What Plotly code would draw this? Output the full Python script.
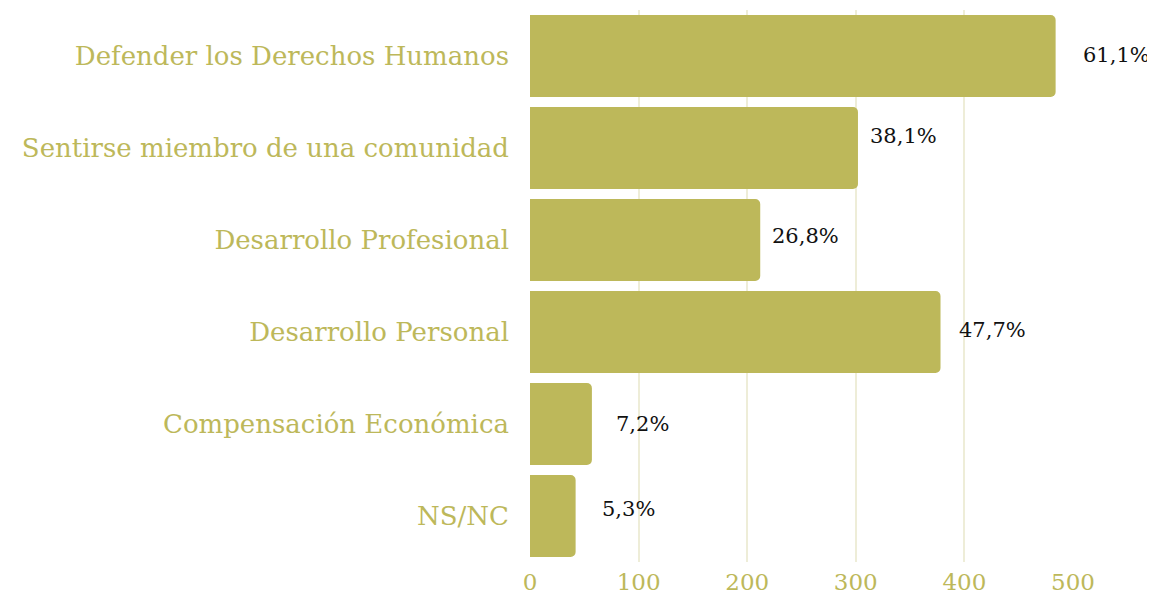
import plotly.graph_objects as go

categories = ["Defender los Derechos Humanos", "Sentirse miembro de una comunidad",
              "Desarrollo Profesional", "Desarrollo Personal",
              "Compensación Económica", "NS/NC"]
counts = [484, 302, 212, 378, 57, 42]
pct_labels = ["61,1%", "38,1%", "26,8%", "47,7%", "7,2%", "5,3%"]
x_ticks = [0, 100, 200, 300, 400, 500]

# label offsets (style only)
label_xshift = [25, 10, 10, 16, 22, 24]
label_yshift = [1, 12, 4, 2, 0, 7]

BAR = "#BDB85A"
GRID = "#EEEDD8"
FONT = "DejaVu Serif"

fig = go.Figure(go.Bar(
    x=counts, y=categories, orientation="h",
    marker=dict(color=BAR, cornerradius=5, line=dict(width=0)),
    hoverinfo="skip",
))

for c, v, t, dx, dy in zip(categories, counts, pct_labels, label_xshift, label_yshift):
    fig.add_annotation(x=v, y=c, text=t, showarrow=False, xanchor="left",
                       xshift=dx, yshift=dy,
                       font=dict(family=FONT, size=21, color="#111111"))

# page body has an 8px margin, so the figure is sized to fit the window
fig.update_layout(
    width=1147, height=590,
    margin=dict(l=522, r=82, t=2, b=36),
    paper_bgcolor="white", plot_bgcolor="white",
    bargap=0.11,
    showlegend=False,
    xaxis=dict(range=[0, 500], tickvals=x_ticks, showgrid=True, gridcolor=GRID,
               gridwidth=2, zeroline=False, showline=False, automargin=False,
               tickfont=dict(family=FONT, size=23, color=BAR),
               ticklabelstandoff=4),
    yaxis=dict(categoryorder="array", categoryarray=categories[::-1],
               showgrid=False, zeroline=False, showline=False, automargin=False,
               tickfont=dict(family=FONT, size=26, color=BAR),
               ticklabelstandoff=20),
)

fig.write_html("out.html")
